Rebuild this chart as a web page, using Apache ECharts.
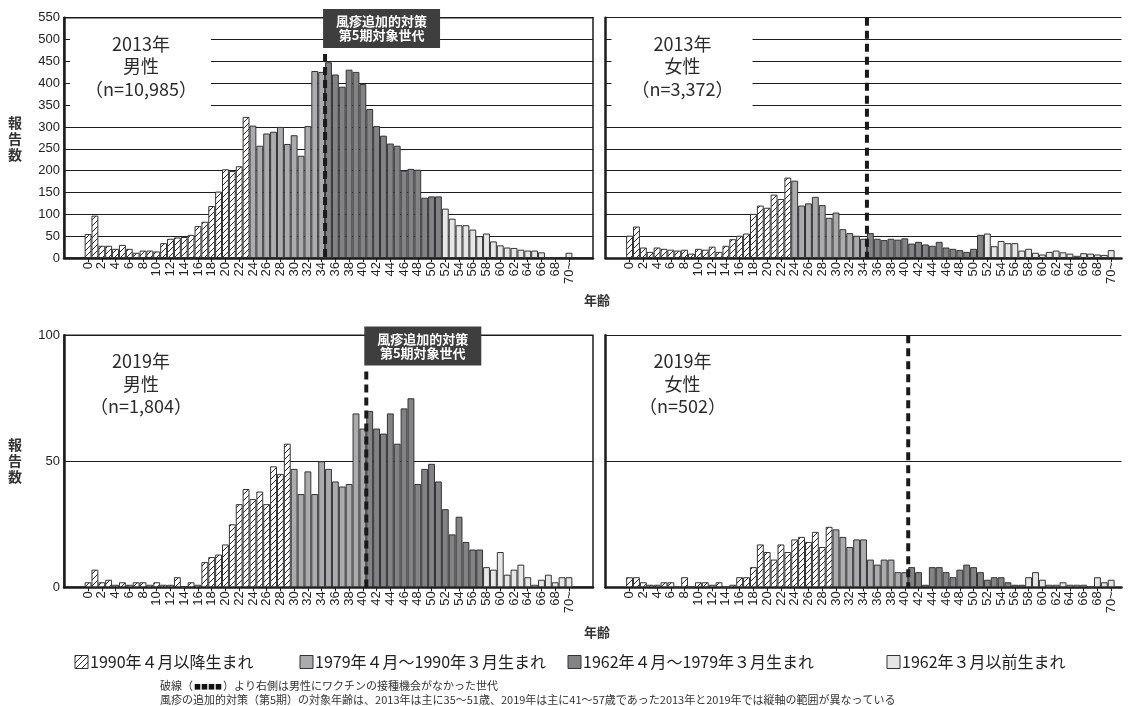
<!DOCTYPE html>
<html>
<head>
<meta charset="utf-8">
<script src="https://cdn.jsdelivr.net/npm/echarts@6/dist/echarts.min.js"></script>
<style>
  html, body { margin: 0; padding: 0; background: #ffffff; }
  #chart { width: 1132px; height: 706px; }
</style>
</head>
<body>
<div id="chart"></div>
<script>
// Age classes: single years 0..69 and the open class "70~"
const ageLabels = [];
for (let a = 0; a < 70; a++) ageLabels.push(String(a));
ageLabels.push('70~');

// Reported rubella cases by age, 2013
const male2013 = [
  55, 97, 28, 28, 21, 30, 21, 12, 17, 17,
  15, 34, 44, 47, 48, 53, 73, 83, 119, 152,
  203, 199, 210, 323, 303, 257, 285, 289, 300, 261,
  281, 234, 302, 428, 426, 448, 420, 392, 431, 426,
  398, 341, 302, 280, 262, 257, 200, 204, 202, 138,
  141, 141, 113, 90, 75, 75, 65, 50, 56, 38,
  29, 24, 23, 19, 17, 17, 13, 0, 1, 2,
  12
];
const female2013 = [
  51, 72, 24, 14, 24, 21, 19, 17, 19, 10,
  21, 19, 26, 14, 28, 43, 51, 56, 101, 120,
  115, 145, 135, 184, 177, 120, 125, 140, 121, 92,
  104, 66, 57, 51, 44, 57, 44, 41, 44, 42,
  45, 33, 37, 31, 28, 37, 24, 21, 18, 14,
  21, 53, 56, 27, 39, 34, 34, 17, 21, 12,
  8, 14, 17, 13, 10, 5, 11, 10, 8, 7,
  18
];

// Reported rubella cases by age, 2019
const male2019 = [
  2, 7, 2, 3, 1, 2, 1, 2, 2, 1,
  2, 1, 1, 4, 0, 2, 1, 10, 12, 13,
  17, 25, 33, 39, 35, 38, 33, 48, 45, 57,
  47, 37, 46, 37, 50, 47, 42, 40, 41, 69,
  63, 70, 63, 61, 69, 57, 71, 75, 41, 47,
  49, 42, 31, 21, 28, 18, 15, 15, 8, 7,
  14, 5, 7, 9, 4, 1, 3, 5, 2, 4,
  4
];
const female2019 = [
  4, 4, 2, 1, 1, 2, 2, 0, 4, 0,
  2, 2, 1, 2, 0, 1, 4, 4, 8, 17,
  14, 11, 17, 14, 19, 20, 18, 22, 16, 24,
  23, 20, 16, 19, 19, 11, 9, 11, 11, 6,
  6, 8, 6, 1, 8, 8, 6, 4, 7, 9,
  8, 6, 3, 4, 4, 2, 1, 1, 4, 6,
  3, 1, 1, 2, 1, 1, 1, 0, 4, 2,
  3
];

// First age of each birth cohort in the survey year
// (after 1990.4 / 1979.4-1990.3 / 1962.4-1979.3 / before 1962.3)
const cohortStart2013 = [0, 24, 35, 52];
const cohortStart2019 = [0, 30, 41, 58];

const cohortNames = [
  '1990年４月以降生まれ',
  '1979年４月～1990年３月生まれ',
  '1962年４月～1979年３月生まれ',
  '1962年３月以前生まれ'
];

const panelTitles = [
  ['2013年', '男性', '（n=10,985）'],
  ['2013年', '女性', '（n=3,372）'],
  ['2019年', '男性', '（n=1,804）'],
  ['2019年', '女性', '（n=502）']
];
const targetLabel = ['風疹追加的対策', '第5期対象世代'];
const yTitle = '報告数';
const xTitle = '年齢';
const notes = [
  ['破線（', '■■■■', '）より右側は男性にワクチンの接種機会がなかった世代'],
  '風疹の追加的対策（第5期）の対象年齢は、2013年は主に35～51歳、2019年は主に41～57歳であった2013年と2019年では縦軸の範囲が異なっている'
];

// ---- styling ----
const CJK = '"Noto Sans CJK JP", "Noto Sans", sans-serif';
const LAT = '"Liberation Sans", Arial, sans-serif';
const INK = '#1c1c1c';

function makeHatch() {
  const s = 6;
  const c = document.createElement('canvas');
  c.width = s; c.height = s;
  const g = c.getContext('2d');
  g.fillStyle = '#ffffff';
  g.fillRect(0, 0, s, s);
  g.strokeStyle = '#2a2a2a';
  g.lineWidth = 1;
  g.beginPath();
  g.moveTo(0, s); g.lineTo(s, 0);
  g.moveTo(-1, 1); g.lineTo(1, -1);
  g.moveTo(s - 1, s + 1); g.lineTo(s + 1, s - 1);
  g.stroke();
  return c;
}
const hatchCanvas = makeHatch();
const cohortFills = [
  { image: hatchCanvas, repeat: 'repeat' },
  '#ababad',
  '#838385',
  '#e6e6e6'
];

// Panel layout (pixel boxes of the plotting areas)
const panels = [
  { data: male2013,   starts: cohortStart2013, max: 550, left: 64,    top: 17.7,  width: 529, height: 240.3, padL: 3, padR: 3, yLabels: true,  frame: true,  target: true,  mask: true },
  { data: female2013, starts: cohortStart2013, max: 550, left: 605.5, top: 17.7,  width: 516, height: 240.3, padL: 3, padR: 1, yLabels: false, frame: false, target: false, mask: true },
  { data: male2019,   starts: cohortStart2019, max: 100, left: 64,    top: 335.3, width: 529, height: 252,   padL: 3, padR: 3, yLabels: true,  frame: true,  target: true,  mask: false },
  { data: female2019, starts: cohortStart2019, max: 100, left: 605.5, top: 335.3, width: 516, height: 252,   padL: 3, padR: 1, yLabels: false, frame: false, target: false, mask: false }
];

function cohortOf(starts, age) {
  let k = 0;
  for (let i = 0; i < starts.length; i++) if (age >= starts[i]) k = i;
  return k;
}

const shownAge = (idx, val) => {
  const n = parseInt(val, 10);
  return !isNaN(n) && n % 2 === 0;
};

const grids = [], xAxes = [], yAxes = [], series = [];
panels.forEach((p, i) => {
  const cats = [];
  for (let k = 0; k < p.padL; k++) cats.push('padL' + k);
  ageLabels.forEach(a => cats.push(a));
  for (let k = 0; k < p.padR; k++) cats.push('padR' + k);

  const items = [];
  for (let k = 0; k < p.padL; k++) items.push(null);
  p.data.forEach((v, age) => {
    items.push({ value: v, itemStyle: { color: cohortFills[cohortOf(p.starts, age)] } });
  });
  for (let k = 0; k < p.padR; k++) items.push(null);

  grids.push({
    left: p.left, top: p.top, width: p.width, height: p.height,
    show: p.frame, borderColor: INK, borderWidth: 1.5, backgroundColor: 'transparent'
  });
  xAxes.push({
    type: 'category', gridIndex: i, data: cats,
    axisLine: { lineStyle: { color: INK, width: 2.5 } },
    axisTick: { show: true, alignWithLabel: true, interval: shownAge, length: 4, lineStyle: { color: INK, width: 1 } },
    axisLabel: { interval: shownAge, rotate: 90, fontSize: 13, color: '#222', fontFamily: LAT, margin: 4 },
    splitLine: { show: false }
  });
  yAxes.push({
    type: 'value', gridIndex: i, min: 0, max: p.max, interval: 50,
    axisLine: { show: true, lineStyle: { color: INK, width: 2.5 } },
    axisTick: { show: false },
    axisLabel: { show: p.yLabels, fontSize: 13, color: '#222', fontFamily: LAT, margin: 4 },
    splitLine: { show: true, lineStyle: { color: INK, width: 1.2 } }
  });
  series.push({
    type: 'bar', xAxisIndex: i, yAxisIndex: i, data: items,
    barCategoryGap: '0%', silent: true,
    itemStyle: { borderColor: '#333', borderWidth: 1 }
  });
});

const chart = echarts.init(document.getElementById('chart'), null, { renderer: 'canvas' });
chart.setOption({
  animation: false,
  backgroundColor: '#ffffff',
  grid: grids, xAxis: xAxes, yAxis: yAxes, series: series
});

// ---- overlays: titles, cohort boundary, legend, notes ----
const g = [];
function text(str, x, y, opt) {
  g.push({
    type: 'text', z: 120,
    style: Object.assign({
      text: str, x: x, y: y, fill: '#2b2b2b', fontSize: 18, fontFamily: CJK,
      textAlign: 'center', textVerticalAlign: 'middle'
    }, opt || {})
  });
}

panels.forEach((p, i) => {
  const cx = p.left + 77;
  if (p.mask) {
    g.push({ type: 'rect', z: 110, shape: { x: p.left + 6, y: p.top + 12, width: 141, height: 86 },
      style: { fill: '#ffffff' } });
  }
  const t = panelTitles[i];
  text(t[0], cx, p.top + 26);
  text(t[1], cx, p.top + 48.5);
  text(t[2], cx, p.top + 71);

  // dashed boundary between the 2nd and 3rd cohorts
  const b = p.starts[2];
  const xa = chart.convertToPixel({ gridIndex: i }, [p.padL + b - 1, 0]);
  const xb = chart.convertToPixel({ gridIndex: i }, [p.padL + b, 0]);
  const dx = (xa[0] + xb[0]) / 2;
  const yBottom = xa[1];
  let yTop = p.top;
  if (p.target) {
    const bx = dx - 2, by = p.top - 8.7, bw = 117, bh = 39;
    g.push({ type: 'rect', z: 115, shape: { x: bx, y: by, width: bw, height: bh }, style: { fill: '#3e3e3e' } });
    text(targetLabel[0], bx + bw / 2, by + 12, { fill: '#ffffff', fontSize: 13, fontWeight: 'bold' });
    text(targetLabel[1], bx + bw / 2, by + 26.5, { fill: '#ffffff', fontSize: 13, fontWeight: 'bold' });
    yTop = by + bh + 6;
  }
  g.push({ type: 'line', z: 118, shape: { x1: dx, y1: yTop, x2: dx, y2: yBottom },
    style: { stroke: '#1a1a1a', lineWidth: 4, lineDash: [8, 5] } });
});

// axis titles
[[15, 138.5], [15, 461]].forEach(([x, y]) => {
  text(yTitle.split('').join('\n'), x, y, { fontSize: 14, fontWeight: 'bold', fill: '#333', lineHeight: 16 });
});
[[597, 300], [597, 632]].forEach(([x, y]) => {
  text(xTitle, x, y, { fontSize: 13, fontWeight: 'bold', fill: '#333' });
});

// legend
const legendX = [75, 300, 568, 887];
cohortNames.forEach((name, k) => {
  g.push({ type: 'rect', z: 120, shape: { x: legendX[k], y: 655.5, width: 13, height: 13 },
    style: { fill: cohortFills[k], stroke: '#333', lineWidth: 1 } });
  text(name, legendX[k] + 15, 662, { fontSize: 16, textAlign: 'left', fill: '#222' });
});

// notes (the small squares stand for the dashed line)
text('{a|' + notes[0][0] + '}{b|' + notes[0][1] + '}{a|' + notes[0][2] + '}', 160, 686, {
  textAlign: 'left', fill: '#333', fontSize: 11,
  rich: {
    a: { fontSize: 11, fontFamily: CJK, fill: '#333' },
    b: { fontSize: 7, fontFamily: CJK, fill: '#111', padding: [0, 1, 0, 1] }
  }
});
text(notes[1], 160, 700, { fontSize: 11, textAlign: 'left', fill: '#333' });

chart.setOption({ graphic: g });
</script>
</body>
</html>
